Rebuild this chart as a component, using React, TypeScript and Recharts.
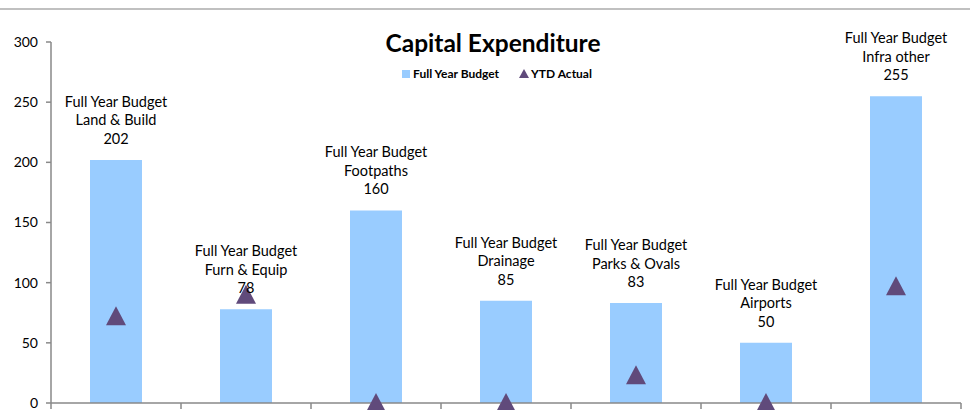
import { Bar, ComposedChart, LabelList, Scatter, XAxis, YAxis } from "recharts";

const categories = ["Land & Build", "Furn & Equip", "Footpaths", "Drainage", "Parks & Ovals", "Airports", "Infra other"];
const budget = [202, 78, 160, 85, 83, 50, 255];
const ytdActual = [72, 90, 0, 0, 23, 0, 97];
const yTicks = [0, 50, 100, 150, 200, 250, 300];

const data = categories.map((name, i) => ({ name, budget: budget[i], actual: ytdActual[i] }));

const FONT = "Lato, 'Open Sans', sans-serif";
const BAR_COLOR = "#99CCFF";
const TRI_COLOR = "#604A7B";
const AXIS_COLOR = "#898989";

const BudgetLabel = (props: any) => {
  const { x, y, width, value, index } = props;
  const cx = x + width / 2;
  return (
    <text x={cx} y={y - 16} textAnchor="middle" fontFamily={FONT} fontSize={14.5} fill="#000">
      <tspan x={cx} dy={-37}>Full Year Budget</tspan>
      <tspan x={cx} dy={18.5}>{categories[index]}</tspan>
      <tspan x={cx} dy={18.5}>{value}</tspan>
    </text>
  );
};

const Triangle = (props: any) => {
  const { cx, cy } = props;
  return <polygon points={`${cx},${cy - 10} ${cx + 10},${cy + 9} ${cx - 10},${cy + 9}`} fill={TRI_COLOR} />;
};

const BoundaryTick = (props: any) => {
  const { x, y, payload, index } = props;
  const half = payload?.offset ?? 65;
  return (
    <g>
      <line x1={x - half} x2={x - half} y1={y} y2={y + 6} stroke={AXIS_COLOR} strokeWidth={1.5} />
      {index === categories.length - 1 && (
        <line x1={x + half} x2={x + half} y1={y} y2={y + 6} stroke={AXIS_COLOR} strokeWidth={1.5} />
      )}
    </g>
  );
};

const ChartLegend = () => (
  <div
    style={{
      position: "absolute",
      left: 0,
      top: 66,
      width: 970,
      display: "flex",
      justifyContent: "center",
      alignItems: "center",
      fontFamily: FONT,
      fontWeight: 700,
      fontSize: 12,
      color: "#000",
      paddingLeft: 24,
      boxSizing: "border-box",
    }}
  >
    <span style={{ width: 8, height: 8, background: BAR_COLOR, display: "inline-block", marginRight: 3 }} />
    <span style={{ marginRight: 20 }}>Full Year Budget</span>
    <svg width={10} height={9} style={{ marginRight: 2 }}>
      <polygon points="5,0 10,9 0,9" fill={TRI_COLOR} />
    </svg>
    <span>YTD Actual</span>
  </div>
);

export default function App() {
  return (
    <div style={{ position: "absolute", left: 0, top: 0, width: 970, height: 410, background: "#fff", overflow: "hidden" }}>
      <div style={{ position: "absolute", left: 0, top: 8, width: 970, height: 2, background: "#c0c0c0" }} />
      <div
        style={{
          position: "absolute",
          left: 0,
          top: 28,
          width: 986,
          textAlign: "center",
          fontFamily: FONT,
          fontWeight: 700,
          fontSize: 24.5,
          color: "#000",
        }}
      >
        Capital Expenditure
      </div>
      <ChartLegend />
      <ComposedChart
        width={970}
        height={410}
        data={data}
        margin={{ top: 42, right: 9, bottom: 0, left: 0 }}
        barCategoryGap="30%"
        style={{ position: "absolute", left: 0, top: 0 }}
      >
        <XAxis
          dataKey="name"
          height={7}
          stroke={AXIS_COLOR}
          strokeWidth={1.5}
          tickLine={false}
          tickSize={0}
          tickMargin={0}
          tick={<BoundaryTick />}
          interval={0}
        />
        <YAxis
          width={51}
          domain={[0, 300]}
          ticks={yTicks}
          interval={0}
          stroke={AXIS_COLOR}
          strokeWidth={1.5}
          tickSize={5}
          tickMargin={8}
          tick={{ fill: "#000", fontFamily: FONT, fontSize: 14 }}
        />
        <Bar dataKey="budget" name="Full Year Budget" fill={BAR_COLOR} isAnimationActive={false}>
          <LabelList dataKey="budget" content={<BudgetLabel />} />
        </Bar>
        <Scatter dataKey="actual" name="YTD Actual" fill={TRI_COLOR} shape={<Triangle />} isAnimationActive={false} />
      </ComposedChart>
    </div>
  );
}
